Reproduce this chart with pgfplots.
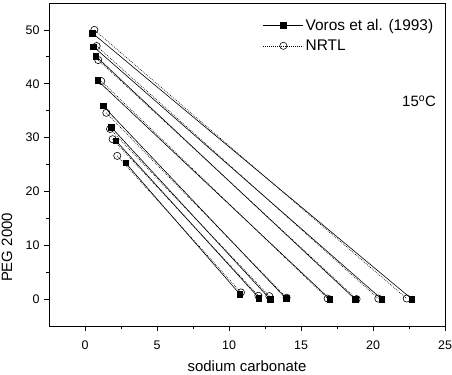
\documentclass[border=0pt]{standalone}
\usepackage{pgfplots}
\pgfplotsset{compat=1.18}
\usepackage{fontspec}
\setmainfont{Liberation Sans}
\begin{document}
\begin{tikzpicture}
\useasboundingbox (0,0) rectangle (452bp,375bp);
\begin{axis}[
  at={(49bp,49bp)}, anchor=south west,
  scale only axis, width=396bp, height=323bp,
  xmin=-2.5, xmax=25, ymin=-5, ymax=55,
  xtick={0,5,10,15,20,25}, ytick={0,10,20,30,40,50},
  minor x tick num=1, minor y tick num=1,
  tick pos=left, tick align=outside,
  major tick length=5bp, minor tick length=3bp,
  axis line style={line width=1bp},
  every tick/.style={line width=0.8bp, black},
  /pgf/number format/assume math mode=true,
  tick label style={font=\fontsize{12.5}{14}\selectfont},
  xticklabel style={yshift=-6bp},
  yticklabel style={xshift=-1bp},
  xlabel={sodium carbonate}, ylabel={PEG 2000},
  every axis x label/.style={at={(axis description cs:0.5,-0.1424)}, anchor=base, font=\fontsize{15}{18}\selectfont},
  every axis y label/.style={at={(axis description cs:-0.106,0.243)}, rotate=90, anchor=center, font=\fontsize{15}{18}\selectfont},
  legend style={draw=none, fill=none, at={(axis description cs:0.54,0.957)}, anchor=north west,
    font=\fontsize{15.5}{18}\selectfont, row sep=4bp, inner sep=0pt},
  legend cell align=left,
  legend image code/.code={\draw[mark repeat=2,mark phase=2,#1] plot coordinates {(0bp,0bp)(20bp,0bp)(40bp,0bp)};},
  exp/.style={black, line width=0.6bp, mark=square*, mark size=2.8bp, mark options={solid, fill=black}},
  nrtl/.style={black, line width=0.6bp, dash pattern=on 0.8bp off 1.2bp, mark=o, mark size=3.6bp, mark options={solid, fill=white, line width=0.6bp}},
]
% Voros et al. (1993)
\addplot[exp] coordinates {(0.52,49.4) (22.70,0.0)};
\addlegendentry{Voros et al. (1993)}
\addplot[exp, forget plot] coordinates {(0.58,46.9) (20.60,0.0)};
\addplot[exp, forget plot] coordinates {(0.76,45.1) (18.75,0.0)};
\addplot[exp, forget plot] coordinates {(0.88,40.6) (17.00,0.0)};
\addplot[exp, forget plot] coordinates {(1.25,35.9) (13.96,0.1)};
\addplot[exp, forget plot] coordinates {(1.83,31.9) (12.85,0.0)};
\addplot[exp, forget plot] coordinates {(2.15,29.4) (12.08,0.2)};
\addplot[exp, forget plot] coordinates {(2.82,25.3) (10.76,0.9)};
% NRTL
\addplot[nrtl] coordinates {(0.65,50.0) (22.34,0.1)};
\addlegendentry{NRTL}
\addplot[nrtl, forget plot] coordinates {(0.81,47.0) (20.37,0.1)};
\addplot[nrtl, forget plot] coordinates {(0.92,44.4) (18.86,0.0)};
\addplot[nrtl, forget plot] coordinates {(1.13,40.5) (16.85,0.1)};
\addplot[nrtl, forget plot] coordinates {(1.48,34.6) (14.00,0.25)};
\addplot[nrtl, forget plot] coordinates {(1.74,31.6) (12.80,0.55)};
\addplot[nrtl, forget plot] coordinates {(1.92,29.7) (12.04,0.62)};
\addplot[nrtl, forget plot] coordinates {(2.24,26.6) (10.83,1.24)};
\node[font=\fontsize{15}{18}\selectfont, anchor=base] at (axis cs:23.2,35.7) {15$^{\mathrm{o}}$C};
\end{axis}
\end{tikzpicture}
\end{document}
